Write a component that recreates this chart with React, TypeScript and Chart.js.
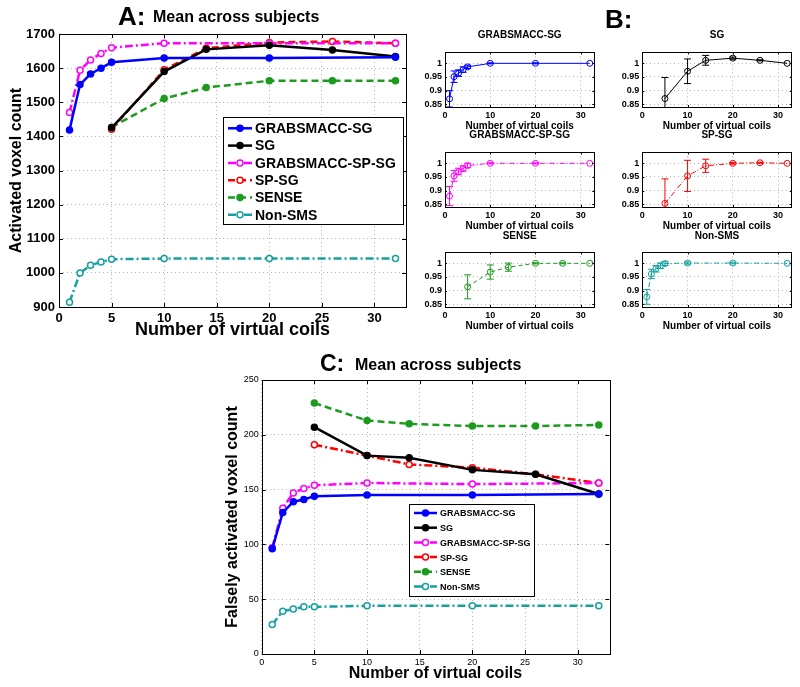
import React, { useEffect, useRef } from 'react';
import { Chart, registerables } from 'chart.js';
Chart.register(...registerables);

const FONT = "'Liberation Sans', Arial, Helvetica, sans-serif";

// ---------- data ----------
const coilsDense = [1, 2, 3, 4, 5, 10, 20, 32];
const coilsSparse = [5, 10, 14, 20, 26, 32];

// Panel A: activated voxel count
const aGrabsSG = [1419, 1552, 1583, 1600, 1617, 1630, 1630, 1632];
const aSG = [1425, 1590, 1655, 1667, 1653, 1634];
const aGrabsSPSG = [1470, 1594, 1624, 1643, 1660, 1673, 1673, 1673];
const aSPSG = [1421, 1595, 1658, 1675, 1678, 1673];
const aSENSE = [1427, 1511, 1543, 1563, 1563, 1563];
const aNonSMS = [914, 1000, 1022, 1032, 1040, 1042, 1042, 1042];

// Panel C: falsely activated voxel count
const cGrabsSG = [96, 129, 139, 141, 144, 145, 145, 146];
const cSG = [207, 181, 179, 168, 164, 146];
const cGrabsSPSG = [97, 133, 147, 151, 154, 156, 155, 156];
const cSPSG = [191, 181, 173, 170, 164, 156];
const cSENSE = [229, 213, 210, 208, 208, 209];
const cNonSMS = [27, 39, 41, 43, 43, 44, 44, 44];

// Panel B: normalized means and error bars
const bGrabsSG = [0.870, 0.951, 0.964, 0.977, 0.987, 1.0, 1.0, 1.0];
const bGrabsSGErr = [0.030, 0.021, 0.012, 0.010, 0.006, 0.002, 0.002, 0];
const bSG = [0.871, 0.971, 1.011, 1.019, 1.011, 1.0];
const bSGErr = [0.077, 0.045, 0.018, 0.004, 0.002, 0];
const bGrabsSPSG = [0.880, 0.954, 0.970, 0.981, 0.992, 1.0, 1.0, 1.0];
const bGrabsSPSGErr = [0.035, 0.020, 0.012, 0.010, 0.008, 0.002, 0.002, 0];
const bSPSG = [0.853, 0.954, 0.991, 1.0, 1.002, 1.0];
const bSPSGErr = [0.090, 0.057, 0.024, 0.003, 0.002, 0];
const bSENSE = [0.914, 0.968, 0.986, 1.0, 1.0, 1.0];
const bSENSEErr = [0.044, 0.026, 0.015, 0.002, 0.002, 0];
const bNonSMS = [0.877, 0.961, 0.980, 0.991, 0.999, 1.001, 1.001, 1.0];
const bNonSMSErr = [0.027, 0.017, 0.012, 0.010, 0.007, 0.004, 0.003, 0];

const seriesNames = ['GRABSMACC-SG', 'SG', 'GRABSMACC-SP-SG', 'SP-SG', 'SENSE', 'Non-SMS'];

const xTicksMain = [0, 5, 10, 15, 20, 25, 30];
const xTicksSmall = [0, 10, 20, 30];
const yTicksA = [900, 1000, 1100, 1200, 1300, 1400, 1500, 1600, 1700];
const yTicksC = [0, 50, 100, 150, 200, 250];
const yTicksB = [0.85, 0.9, 0.95, 1];

const xTitle = 'Number of virtual coils';
const yTitleA = 'Activated voxel count';
const yTitleC = 'Falsely activated voxel count';
const panelTitle = 'Mean across subjects';

// ---------- styles ----------
const COL = {
  blue: '#0000ff',
  black: '#000000',
  magenta: '#ff00ff',
  red: '#ff0000',
  green: '#1c9c1c',
  teal: '#16a0a0',
};

function mkds(label: string, xs: number[], ys: number[], color: string, dash: number[], filled: boolean | 'none', lw: number, r: number, pbw: number, errs?: number[]) {
  return {
    label,
    data: xs.map((x, i) => ({ x, y: ys[i] })),
    borderColor: color,
    backgroundColor: color,
    borderWidth: lw,
    borderDash: dash,
    pointRadius: r,
    pointHoverRadius: r,
    pointBorderWidth: pbw,
    pointBackgroundColor: filled === true ? color : filled === 'none' ? 'rgba(0,0,0,0)' : '#ffffff',
    pointBorderColor: color,
    tension: 0,
    fill: false,
    errors: errs,
  };
}

const DASH_BIG = [7, 4];
const DASHDOT_BIG = [8, 3, 2, 3];
const DASH_SMALL = [4, 3];
const DASHDOT_SMALL = [5, 2, 1, 2];

const framePlugin = {
  id: 'frame',
  beforeDatasetsDraw(chart: any, _a: any, opts: any) {
    const { ctx, chartArea: a, scales } = chart;
    const cap = opts.cap || 3.5;
    chart.data.datasets.forEach((ds: any) => {
      const errs = ds.errors;
      if (!errs) return;
      ctx.save();
      ctx.beginPath();
      ctx.rect(a.left, a.top, a.right - a.left, a.bottom - a.top);
      ctx.clip();
      ctx.strokeStyle = ds.borderColor;
      ctx.lineWidth = 1;
      ctx.setLineDash([]);
      ds.data.forEach((p: any, j: number) => {
        const e = errs[j];
        if (!e) return;
        const x = scales.x.getPixelForValue(p.x);
        const y1 = scales.y.getPixelForValue(p.y - e);
        const y2 = scales.y.getPixelForValue(p.y + e);
        ctx.beginPath();
        ctx.moveTo(x, y1); ctx.lineTo(x, y2);
        ctx.moveTo(x - cap, y1); ctx.lineTo(x + cap, y1);
        ctx.moveTo(x - cap, y2); ctx.lineTo(x + cap, y2);
        ctx.stroke();
      });
      ctx.restore();
    });
  },
  afterDatasetsDraw(chart: any, _a: any, opts: any) {
    const { ctx, chartArea: a, scales } = chart;
    const tl = opts.tickLen || 4;
    ctx.save();
    ctx.setLineDash([]);
    ctx.strokeStyle = '#000';
    ctx.lineWidth = 1;
    ctx.strokeRect(Math.round(a.left) + 0.5, Math.round(a.top) + 0.5, Math.round(a.right - a.left), Math.round(a.bottom - a.top));
    ctx.beginPath();
    scales.x.ticks.forEach((t: any) => {
      const x = Math.round(scales.x.getPixelForValue(t.value)) + 0.5;
      ctx.moveTo(x, a.bottom); ctx.lineTo(x, a.bottom - tl);
      ctx.moveTo(x, a.top); ctx.lineTo(x, a.top + tl);
    });
    scales.y.ticks.forEach((t: any) => {
      const y = Math.round(scales.y.getPixelForValue(t.value)) + 0.5;
      ctx.moveTo(a.left, y); ctx.lineTo(a.left + tl, y);
      ctx.moveTo(a.right, y); ctx.lineTo(a.right - tl, y);
    });
    ctx.stroke();

    const lg = opts.legend;
    if (lg) {
      ctx.fillStyle = '#fff';
      ctx.fillRect(lg.x, lg.y, lg.w, lg.h);
      ctx.strokeStyle = '#000';
      ctx.lineWidth = 1;
      ctx.strokeRect(Math.round(lg.x) + 0.5, Math.round(lg.y) + 0.5, Math.round(lg.w), Math.round(lg.h));
      chart.data.datasets.forEach((ds: any, i: number) => {
        const cy = lg.y + lg.first + i * lg.rowH;
        ctx.strokeStyle = ds.borderColor;
        ctx.lineWidth = ds.borderWidth;
        ctx.setLineDash(ds.borderDash || []);
        ctx.beginPath();
        ctx.moveTo(lg.x + lg.l0, cy);
        ctx.lineTo(lg.x + lg.l1, cy);
        ctx.stroke();
        ctx.setLineDash([]);
        const mx = lg.x + (lg.l0 + lg.l1) / 2;
        ctx.beginPath();
        ctx.arc(mx, cy, ds.pointRadius, 0, Math.PI * 2);
        ctx.fillStyle = ds.pointBackgroundColor;
        ctx.fill();
        ctx.lineWidth = ds.pointBorderWidth;
        ctx.strokeStyle = ds.pointBorderColor;
        ctx.stroke();
        ctx.fillStyle = '#000';
        ctx.font = lg.font;
        ctx.textBaseline = 'middle';
        ctx.textAlign = 'left';
        ctx.fillText(ds.label, lg.x + lg.tx, cy + 1);
      });
    }
    ctx.restore();
  },
};

type PanelOpts = {
  datasets: any[];
  xTicks: number[];
  yTicks: number[];
  xMax: number;
  yMin: number;
  yMax: number;
  tickFont: any;
  xTitleFont: any;
  yTitleFont?: any;
  yTitle?: string;
  yAxisWidth: number;
  xAxisHeight: number;
  padding: { top: number; right: number; bottom: number; left: number };
  yTitlePad?: number;
  tickPadX: number;
  tickPadY: number;
  tickLen: number;
  cap?: number;
  legend?: any;
};

function makeConfig(o: PanelOpts): any {
  return {
    type: 'line',
    data: { datasets: o.datasets },
    plugins: [framePlugin],
    options: {
      responsive: false,
      maintainAspectRatio: false,
      animation: false,
      events: [],
      layout: { padding: o.padding },
      plugins: {
        legend: { display: false },
        tooltip: { enabled: false },
        title: { display: false },
        frame: { tickLen: o.tickLen, cap: o.cap, legend: o.legend },
      },
      scales: {
        x: {
          type: 'linear',
          min: 0,
          max: o.xMax,
          afterBuildTicks: (s: any) => { s.ticks = o.xTicks.map((v) => ({ value: v })); },
          afterFit: (s: any) => { s.height = o.xAxisHeight; },
          grid: { color: '#b4b4b4', drawTicks: false, lineWidth: 1 },
          border: { display: false, dash: [1, 3] },
          ticks: { font: o.tickFont, color: '#000', padding: o.tickPadX, maxRotation: 0, minRotation: 0, autoSkip: false, callback: (v: any) => String(v) },
          title: { display: true, text: xTitle, font: o.xTitleFont, color: '#000', padding: { top: 0, bottom: 0 } },
        },
        y: {
          type: 'linear',
          min: o.yMin,
          max: o.yMax,
          afterBuildTicks: (s: any) => { s.ticks = o.yTicks.map((v) => ({ value: v })); },
          afterFit: (s: any) => { s.width = o.yAxisWidth; },
          grid: { color: '#b4b4b4', drawTicks: false, lineWidth: 1 },
          border: { display: false, dash: [1, 3] },
          ticks: { font: o.tickFont, color: '#000', padding: o.tickPadY, autoSkip: false, callback: (v: any) => String(v) },
          title: o.yTitle
            ? { display: true, text: o.yTitle, font: o.yTitleFont, color: '#000', padding: { top: o.yTitlePad || 0, bottom: 0 } }
            : { display: false },
        },
      },
    },
  };
}

function PlotCanvas(props: { left: number; top: number; width: number; height: number; make: () => any }) {
  const ref = useRef<HTMLCanvasElement>(null);
  useEffect(() => {
    const chart = new Chart(ref.current as HTMLCanvasElement, props.make());
    return () => chart.destroy();
  }, []);
  return (
    <canvas
      ref={ref}
      width={props.width}
      height={props.height}
      style={{ position: 'absolute', left: props.left, top: props.top, width: props.width, height: props.height }}
    />
  );
}

function Label(props: { left: number; top: number; size: number; text: string; width?: number; center?: boolean }) {
  return (
    <div
      style={{
        position: 'absolute',
        left: props.left,
        top: props.top,
        width: props.width,
        textAlign: props.center ? 'center' : 'left',
        fontFamily: FONT,
        fontWeight: 'bold',
        fontSize: props.size,
        lineHeight: 1,
        whiteSpace: 'nowrap',
        color: '#000',
      }}
    >
      {props.text}
    </div>
  );
}

// ---------- panel configs ----------
function configA() {
  const lw = 2.5, r = 3, pb = 1.5;
  const datasets = [
    mkds(seriesNames[0], coilsDense, aGrabsSG, COL.blue, [], true, lw, r, pb),
    mkds(seriesNames[1], coilsSparse, aSG, COL.black, [], true, lw, r, pb),
    mkds(seriesNames[2], coilsDense, aGrabsSPSG, COL.magenta, DASHDOT_BIG, false, lw, r, pb),
    mkds(seriesNames[3], coilsSparse, aSPSG, COL.red, DASH_BIG, false, lw, r, pb),
    mkds(seriesNames[4], coilsSparse, aSENSE, COL.green, DASH_BIG, true, lw, r, pb),
    mkds(seriesNames[5], coilsDense, aNonSMS, COL.teal, DASHDOT_BIG, false, lw, r, pb),
  ];
  return makeConfig({
    datasets,
    xTicks: xTicksMain,
    yTicks: yTicksA,
    xMax: 33,
    yMin: 900,
    yMax: 1700,
    tickFont: { family: FONT, size: 13, weight: 'bold' },
    xTitleFont: { family: FONT, size: 18, weight: 'bold' },
    yTitleFont: { family: FONT, size: 16, weight: 'bold' },
    yTitle: yTitleA,
    yAxisWidth: 59,
    xAxisHeight: 34,
    padding: { top: 34, right: 14, bottom: 0, left: 0 },
    yTitlePad: 7.4,
    tickPadX: 4,
    tickPadY: 4,
    tickLen: 4,
    legend: { x: 222.7, y: 116.7, w: 180.3, h: 106.6, first: 11.6, rowH: 17.3, l0: 5.3, l1: 29.3, tx: 32.3, font: `bold 14px ${FONT}` },
  });
}

function configC() {
  const lw = 2.5, r = 3, pb = 1.5;
  const datasets = [
    mkds(seriesNames[0], coilsDense, cGrabsSG, COL.blue, [], true, lw, r, pb),
    mkds(seriesNames[1], coilsSparse, cSG, COL.black, [], true, lw, r, pb),
    mkds(seriesNames[2], coilsDense, cGrabsSPSG, COL.magenta, DASHDOT_BIG, false, lw, r, pb),
    mkds(seriesNames[3], coilsSparse, cSPSG, COL.red, DASHDOT_BIG, false, lw, r, pb),
    mkds(seriesNames[4], coilsSparse, cSENSE, COL.green, DASH_BIG, true, lw, r, pb),
    mkds(seriesNames[5], coilsDense, cNonSMS, COL.teal, DASHDOT_BIG, false, lw, r, pb),
  ];
  return makeConfig({
    datasets,
    xTicks: xTicksMain,
    yTicks: yTicksC,
    xMax: 33,
    yMin: 0,
    yMax: 250,
    tickFont: { family: FONT, size: 9, weight: 'normal' },
    xTitleFont: { family: FONT, size: 16, weight: 'bold' },
    yTitleFont: { family: FONT, size: 16, weight: 'bold' },
    yTitle: yTitleC,
    yAxisWidth: 66.7,
    xAxisHeight: 29,
    padding: { top: 10, right: 10.7, bottom: 0, left: 0 },
    yTitlePad: 28.4,
    tickPadX: 3,
    tickPadY: 3,
    tickLen: 4,
    legend: { x: 214.3, y: 134, w: 125, h: 91.7, first: 9, rowH: 14.7, l0: 4.7, l1: 27.7, tx: 30.7, font: `bold 9px ${FONT}` },
  });
}

function configB(xs: number[], ys: number[], errs: number[], color: string, dash: number[], yAxisWidth: number, right: number) {
  const datasets = [mkds('', xs, ys, color, dash, 'none', 1, 3, 1, errs)];
  return makeConfig({
    datasets,
    xTicks: xTicksSmall,
    yTicks: yTicksB,
    xMax: 33,
    yMin: 0.84,
    yMax: 1.04,
    tickFont: { family: FONT, size: 9, weight: 'bold' },
    xTitleFont: { family: FONT, size: 10, weight: 'bold' },
    yAxisWidth,
    xAxisHeight: 25,
    padding: { top: 3, right, bottom: 0, left: 0 },
    tickPadX: 3,
    tickPadY: 3,
    tickLen: 2,
    cap: 3.5,
  });
}

const bCols = [
  { canvasLeft: 412, areaLeft: 445, areaRight: 594.3 },
  { canvasLeft: 609, areaLeft: 642.3, areaRight: 791.7 },
];
const bRows = [46.7, 146.7, 247.3];
const B_W = 188;

const bPanels = [
  { title: seriesNames[0], xs: coilsDense, ys: bGrabsSG, errs: bGrabsSGErr, color: COL.blue, dash: [], col: 0, row: 0 },
  { title: seriesNames[1], xs: coilsSparse, ys: bSG, errs: bSGErr, color: COL.black, dash: [], col: 1, row: 0 },
  { title: seriesNames[2], xs: coilsDense, ys: bGrabsSPSG, errs: bGrabsSPSGErr, color: COL.magenta, dash: DASHDOT_SMALL, col: 0, row: 1 },
  { title: seriesNames[3], xs: coilsSparse, ys: bSPSG, errs: bSPSGErr, color: COL.red, dash: DASHDOT_SMALL, col: 1, row: 1 },
  { title: seriesNames[4], xs: coilsSparse, ys: bSENSE, errs: bSENSEErr, color: COL.green, dash: DASH_SMALL, col: 0, row: 2 },
  { title: seriesNames[5], xs: coilsDense, ys: bNonSMS, errs: bNonSMSErr, color: COL.teal, dash: DASHDOT_SMALL, col: 1, row: 2 },
];

export default function App() {
  return (
    <div style={{ position: 'absolute', left: 0, top: 0, width: 800, height: 687, background: '#fff', overflow: 'hidden' }}>
      {/* Panel A */}
      <PlotCanvas left={0} top={0} width={420} height={341} make={configA} />
      <Label left={118} top={3} size={26} text="A:" />
      <Label left={153} top={9.2} size={16} text={panelTitle} />

      {/* Panel B */}
      <Label left={605} top={6.3} size={26} text="B:" />
      {bPanels.map((p, i) => {
        const c = bCols[p.col];
        const top = bRows[p.row] - 3;
        const right = c.canvasLeft + B_W - c.areaRight;
        const cx = (c.areaLeft + c.areaRight) / 2;
        return (
          <React.Fragment key={i}>
            <PlotCanvas
              left={c.canvasLeft}
              top={top}
              width={B_W}
              height={88}
              make={() => configB(p.xs, p.ys, p.errs, p.color, p.dash, c.areaLeft - c.canvasLeft, right)}
            />
            <Label left={cx - 100} width={200} center top={bRows[p.row] - 11.5 - 4.9} size={10} text={p.title} />
          </React.Fragment>
        );
      })}

      {/* Panel C */}
      <PlotCanvas left={195} top={370} width={425} height={313} make={configC} />
      <Label left={320} top={351.5} size={23} text="C:" />
      <Label left={355} top={357.2} size={16} text={panelTitle} />
    </div>
  );
}
